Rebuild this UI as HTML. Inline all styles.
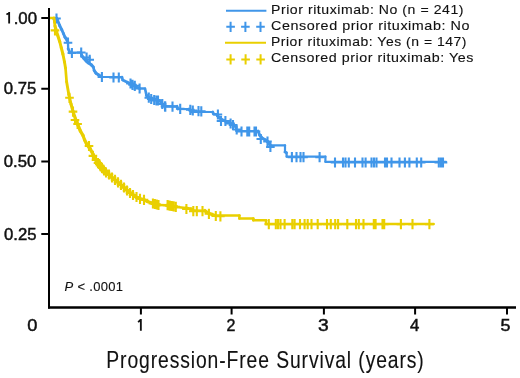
<!DOCTYPE html>
<html><head><meta charset="utf-8"><style>
html,body{margin:0;padding:0;background:#fff;}
svg{display:block;}
text{font-family:"Liberation Sans",sans-serif;fill:#111;stroke:#111;stroke-width:0.12px;}
.tk text{stroke-width:0.45px;}
svg{will-change:transform;}
</style></head><body>
<svg width="520" height="378" viewBox="0 0 520 378">
<rect width="520" height="378" fill="#fff"/>
<!-- legend -->
<line x1="226" y1="10.8" x2="266.4" y2="10.8" stroke="#4096e9" stroke-width="1.9"/>
<path d="M226.3 26.8h8.6M230.6 21.7v10.2M241.1 26.8h8.6M245.4 21.7v10.2M256.2 26.8h8.6M260.5 21.7v10.2" stroke="#4096e9" stroke-width="2" fill="none"/>
<line x1="225" y1="42.8" x2="266" y2="42.8" stroke="#e9cf00" stroke-width="2"/>
<path d="M226.3 59.4h8.6M230.6 54.3v10.2M241.3 59.4h8.6M245.6 54.3v10.2M256.3 59.4h8.6M260.6 54.3v10.2" stroke="#e9cf00" stroke-width="2" fill="none"/>
<g font-size="13" letter-spacing="0.5">
<text x="271" y="13.9" textLength="193" lengthAdjust="spacingAndGlyphs">Prior rituximab: No (n = 241)</text>
<text x="271" y="29.8" textLength="199" lengthAdjust="spacingAndGlyphs">Censored prior rituximab: No</text>
<text x="271" y="46.2" textLength="196" lengthAdjust="spacingAndGlyphs">Prior rituximab: Yes (n = 147)</text>
<text x="271" y="62.1" textLength="203" lengthAdjust="spacingAndGlyphs">Censored prior rituximab: Yes</text>
</g>
<!-- curves -->
<g stroke="#4096e9" stroke-linecap="round"><line x1="49.0" y1="18.0" x2="56.5" y2="18.0" stroke-width="2.20"/><line x1="56.5" y1="18.0" x2="57.6" y2="20.3" stroke-width="2.93"/><line x1="57.6" y1="20.3" x2="59.7" y2="25.6" stroke-width="2.86"/><line x1="59.7" y1="25.6" x2="61.8" y2="29.8" stroke-width="2.95"/><line x1="61.8" y1="29.8" x2="63.4" y2="33.5" stroke-width="2.89"/><line x1="63.4" y1="33.5" x2="65.0" y2="37.2" stroke-width="2.89"/><line x1="65.0" y1="37.2" x2="67.0" y2="40.0" stroke-width="3.07"/><line x1="67.0" y1="40.0" x2="68.0" y2="42.7" stroke-width="2.83"/><line x1="68.0" y1="42.7" x2="68.2" y2="48.8" stroke-width="2.27"/><line x1="68.2" y1="48.8" x2="70.0" y2="52.6" stroke-width="2.93"/><line x1="70.0" y1="52.6" x2="81.0" y2="52.6" stroke-width="2.20"/><line x1="81.0" y1="52.6" x2="82.0" y2="56.0" stroke-width="2.73"/><line x1="82.0" y1="56.0" x2="84.0" y2="58.5" stroke-width="3.09"/><line x1="84.0" y1="58.5" x2="86.0" y2="60.6" stroke-width="3.11"/><line x1="86.0" y1="60.6" x2="88.0" y2="62.5" stroke-width="3.11"/><line x1="88.0" y1="62.5" x2="91.5" y2="65.0" stroke-width="3.07"/><line x1="91.5" y1="65.0" x2="93.3" y2="67.0" stroke-width="3.11"/><line x1="93.3" y1="67.0" x2="94.2" y2="70.5" stroke-width="2.68"/><line x1="94.2" y1="70.5" x2="96.0" y2="73.2" stroke-width="3.05"/><line x1="96.0" y1="73.2" x2="98.7" y2="75.0" stroke-width="3.05"/><line x1="98.7" y1="75.0" x2="101.9" y2="77.0" stroke-width="3.03"/><line x1="101.9" y1="77.0" x2="122.0" y2="77.0" stroke-width="2.20"/><line x1="122.0" y1="77.0" x2="122.7" y2="80.0" stroke-width="2.64"/><line x1="122.7" y1="80.0" x2="127.3" y2="82.3" stroke-width="2.95"/><line x1="127.3" y1="82.3" x2="132.0" y2="84.6" stroke-width="2.94"/><line x1="132.0" y1="84.6" x2="135.0" y2="86.2" stroke-width="2.98"/><line x1="135.0" y1="86.2" x2="139.6" y2="88.5" stroke-width="2.95"/><line x1="139.6" y1="88.5" x2="145.0" y2="88.5" stroke-width="2.20"/><line x1="145.0" y1="88.5" x2="146.5" y2="95.4" stroke-width="2.62"/><line x1="146.5" y1="95.4" x2="148.8" y2="97.7" stroke-width="3.11"/><line x1="148.8" y1="97.7" x2="152.0" y2="99.2" stroke-width="2.93"/><line x1="152.0" y1="99.2" x2="154.2" y2="100.0" stroke-width="2.82"/><line x1="154.2" y1="100.0" x2="158.0" y2="100.0" stroke-width="2.20"/><line x1="158.0" y1="100.0" x2="160.0" y2="100.8" stroke-width="2.86"/><line x1="160.0" y1="100.8" x2="162.0" y2="103.7" stroke-width="3.06"/><line x1="162.0" y1="103.7" x2="165.0" y2="106.1" stroke-width="3.09"/><line x1="165.0" y1="106.1" x2="177.0" y2="106.3" stroke-width="2.24"/><line x1="177.0" y1="106.3" x2="178.0" y2="109.0" stroke-width="2.83"/><line x1="178.0" y1="109.0" x2="189.0" y2="109.2" stroke-width="2.24"/><line x1="189.0" y1="109.2" x2="192.0" y2="111.8" stroke-width="3.10"/><line x1="192.0" y1="111.8" x2="212.7" y2="112.0" stroke-width="2.22"/><line x1="212.7" y1="112.0" x2="213.5" y2="114.0" stroke-width="2.86"/><line x1="213.5" y1="114.0" x2="217.0" y2="114.5" stroke-width="2.49"/><line x1="217.0" y1="114.5" x2="217.5" y2="115.9" stroke-width="2.81"/><line x1="217.5" y1="115.9" x2="221.0" y2="119.0" stroke-width="3.11"/><line x1="221.0" y1="119.0" x2="225.0" y2="121.0" stroke-width="2.95"/><line x1="225.0" y1="121.0" x2="230.0" y2="123.0" stroke-width="2.86"/><line x1="230.0" y1="123.0" x2="233.0" y2="124.5" stroke-width="2.95"/><line x1="233.0" y1="124.5" x2="236.0" y2="127.0" stroke-width="3.10"/><line x1="236.0" y1="127.0" x2="236.5" y2="131.0" stroke-width="2.46"/><line x1="236.5" y1="131.0" x2="258.0" y2="131.0" stroke-width="2.20"/><line x1="258.0" y1="131.0" x2="259.6" y2="135.0" stroke-width="2.86"/><line x1="259.6" y1="135.0" x2="262.0" y2="138.0" stroke-width="3.09"/><line x1="262.0" y1="138.0" x2="265.6" y2="140.1" stroke-width="3.01"/><line x1="265.6" y1="140.1" x2="267.5" y2="141.5" stroke-width="3.08"/><line x1="267.5" y1="141.5" x2="269.4" y2="144.0" stroke-width="3.08"/><line x1="269.4" y1="144.0" x2="270.4" y2="145.3" stroke-width="3.09"/><line x1="270.4" y1="145.3" x2="285.0" y2="145.3" stroke-width="2.20"/><line x1="285.0" y1="145.3" x2="285.0" y2="152.0" stroke-width="2.20"/><line x1="285.0" y1="152.0" x2="286.5" y2="152.7" stroke-width="2.92"/><line x1="286.5" y1="152.7" x2="286.7" y2="156.7" stroke-width="2.31"/><line x1="286.7" y1="156.7" x2="325.4" y2="156.7" stroke-width="2.20"/><line x1="325.4" y1="156.7" x2="325.4" y2="161.8" stroke-width="2.20"/><line x1="325.4" y1="161.8" x2="446.0" y2="161.8" stroke-width="2.20"/></g>
<path d="M52.2 18.5h8.6M56.5 13.4v10.2M63.7 42.7h8.6M68.0 37.6v10.2M67.6 53.0h8.6M71.9 47.9v10.2M76.9 52.5h8.6M81.2 47.4v10.2M82.3 57.5h8.6M86.6 52.4v10.2M85.4 59.8h8.6M89.7 54.7v10.2M97.6 77.0h8.6M101.9 71.9v10.2M109.2 77.5h8.6M113.5 72.4v10.2M114.5 77.5h8.6M118.8 72.4v10.2M126.2 83.5h8.6M130.5 78.4v10.2M128.2 84.8h8.6M132.5 79.7v10.2M130.5 85.8h8.6M134.8 80.7v10.2M135.3 88.5h8.6M139.6 83.4v10.2M144.5 97.7h8.6M148.8 92.6v10.2M146.9 99.0h8.6M151.2 93.9v10.2M149.9 100.0h8.6M154.2 94.9v10.2M152.2 100.5h8.6M156.5 95.4v10.2M153.7 100.5h8.6M158.0 95.4v10.2M158.0 104.0h8.6M162.3 98.9v10.2M160.7 106.4h8.6M165.0 101.3v10.2M161.0 106.6h8.6M165.3 101.5v10.2M168.2 106.6h8.6M172.5 101.5v10.2M175.9 108.8h8.6M180.2 103.7v10.2M186.0 109.8h8.6M190.3 104.7v10.2M188.5 110.5h8.6M192.8 105.4v10.2M194.2 111.2h8.6M198.5 106.1v10.2M197.0 111.4h8.6M201.3 106.3v10.2M213.6 114.5h8.6M217.9 109.4v10.2M216.7 121.0h8.6M221.0 115.9v10.2M221.1 121.0h8.6M225.4 115.9v10.2M226.3 123.5h8.6M230.6 118.4v10.2M228.7 125.0h8.6M233.0 119.9v10.2M232.4 129.5h8.6M236.7 124.4v10.2M237.2 131.5h8.6M241.5 126.4v10.2M243.0 131.5h8.6M247.3 126.4v10.2M244.9 131.5h8.6M249.2 126.4v10.2M250.2 131.5h8.6M254.5 126.4v10.2M251.7 131.5h8.6M256.0 126.4v10.2M256.5 139.0h8.6M260.8 133.9v10.2M263.2 141.5h8.6M267.5 136.4v10.2M266.1 147.0h8.6M270.4 141.9v10.2M287.6 157.2h8.6M291.9 152.1v10.2M292.2 157.2h8.6M296.5 152.1v10.2M296.2 157.2h8.6M300.5 152.1v10.2M299.2 157.2h8.6M303.5 152.1v10.2M315.3 157.2h8.6M319.6 152.1v10.2M330.7 162.5h8.6M335.0 157.4v10.2M338.7 162.5h8.6M343.0 157.4v10.2M341.2 162.5h8.6M345.5 157.4v10.2M344.5 162.5h8.6M348.8 157.4v10.2M350.7 162.5h8.6M355.0 157.4v10.2M358.2 162.5h8.6M362.5 157.4v10.2M361.3 162.5h8.6M365.6 157.4v10.2M367.2 162.5h8.6M371.5 157.4v10.2M369.7 162.5h8.6M374.0 157.4v10.2M372.2 162.5h8.6M376.5 157.4v10.2M380.7 162.5h8.6M385.0 157.4v10.2M382.7 162.5h8.6M387.0 157.4v10.2M387.2 162.5h8.6M391.5 157.4v10.2M395.2 162.5h8.6M399.5 157.4v10.2M400.6 162.5h8.6M404.9 157.4v10.2M405.1 162.5h8.6M409.4 157.4v10.2M412.5 162.5h8.6M416.8 157.4v10.2M416.9 162.5h8.6M421.2 157.4v10.2M434.5 162.5h8.6M438.8 157.4v10.2M436.7 162.5h8.6M441.0 157.4v10.2M438.7 162.5h8.6M443.0 157.4v10.2" stroke="#4096e9" stroke-width="2.1" fill="none"/>
<g stroke="#e9cf00" stroke-linecap="round"><line x1="49.0" y1="18.0" x2="54.0" y2="18.0" stroke-width="2.50"/><line x1="54.0" y1="18.0" x2="54.5" y2="22.0" stroke-width="2.79"/><line x1="54.5" y1="22.0" x2="55.0" y2="26.0" stroke-width="2.79"/><line x1="55.0" y1="26.0" x2="55.7" y2="28.5" stroke-width="3.08"/><line x1="55.7" y1="28.5" x2="57.6" y2="35.1" stroke-width="3.09"/><line x1="57.6" y1="35.1" x2="59.7" y2="41.5" stroke-width="3.15"/><line x1="59.7" y1="41.5" x2="61.3" y2="47.8" stroke-width="3.04"/><line x1="61.3" y1="47.8" x2="62.9" y2="54.0" stroke-width="3.05"/><line x1="62.9" y1="54.0" x2="64.5" y2="62.0" stroke-width="2.94"/><line x1="64.5" y1="62.0" x2="65.5" y2="68.0" stroke-width="2.88"/><line x1="65.5" y1="68.0" x2="66.6" y2="81.7" stroke-width="2.69"/><line x1="66.6" y1="81.7" x2="68.8" y2="94.4" stroke-width="2.89"/><line x1="68.8" y1="94.4" x2="71.0" y2="104.0" stroke-width="3.00"/><line x1="71.0" y1="104.0" x2="73.0" y2="111.4" stroke-width="3.07"/><line x1="73.0" y1="111.4" x2="75.5" y2="119.0" stroke-width="3.16"/><line x1="75.5" y1="119.0" x2="77.7" y2="124.5" stroke-width="3.25"/><line x1="77.7" y1="124.5" x2="80.4" y2="131.0" stroke-width="3.27"/><line x1="80.4" y1="131.0" x2="83.0" y2="135.5" stroke-width="3.42"/><line x1="83.0" y1="135.5" x2="84.6" y2="140.0" stroke-width="3.19"/><line x1="84.6" y1="140.0" x2="86.6" y2="144.0" stroke-width="3.35"/><line x1="86.6" y1="144.0" x2="90.0" y2="148.6" stroke-width="3.50"/><line x1="90.0" y1="148.6" x2="93.2" y2="154.5" stroke-width="3.39"/><line x1="93.2" y1="154.5" x2="95.2" y2="159.5" stroke-width="3.25"/><line x1="95.2" y1="159.5" x2="99.5" y2="164.5" stroke-width="3.53"/><line x1="99.5" y1="164.5" x2="103.8" y2="170.0" stroke-width="3.51"/><line x1="103.8" y1="170.0" x2="108.0" y2="174.0" stroke-width="3.53"/><line x1="108.0" y1="174.0" x2="112.0" y2="177.5" stroke-width="3.53"/><line x1="112.0" y1="177.5" x2="116.0" y2="180.8" stroke-width="3.52"/><line x1="116.0" y1="180.8" x2="120.0" y2="184.0" stroke-width="3.51"/><line x1="120.0" y1="184.0" x2="124.0" y2="187.5" stroke-width="3.53"/><line x1="124.0" y1="187.5" x2="128.0" y2="191.0" stroke-width="3.53"/><line x1="128.0" y1="191.0" x2="132.0" y2="194.0" stroke-width="3.50"/><line x1="132.0" y1="194.0" x2="136.0" y2="197.0" stroke-width="3.50"/><line x1="136.0" y1="197.0" x2="140.0" y2="198.8" stroke-width="3.31"/><line x1="140.0" y1="198.8" x2="144.0" y2="199.8" stroke-width="3.03"/><line x1="144.0" y1="199.8" x2="147.5" y2="201.5" stroke-width="3.34"/><line x1="147.5" y1="201.5" x2="152.0" y2="203.0" stroke-width="3.16"/><line x1="152.0" y1="203.0" x2="156.0" y2="204.0" stroke-width="3.03"/><line x1="156.0" y1="204.0" x2="159.6" y2="205.0" stroke-width="3.08"/><line x1="159.6" y1="205.0" x2="166.5" y2="205.2" stroke-width="2.57"/><line x1="166.5" y1="205.2" x2="171.0" y2="206.0" stroke-width="2.90"/><line x1="171.0" y1="206.0" x2="176.5" y2="207.0" stroke-width="2.91"/><line x1="176.5" y1="207.0" x2="186.0" y2="208.0" stroke-width="2.75"/><line x1="186.0" y1="208.0" x2="191.0" y2="209.0" stroke-width="2.94"/><line x1="191.0" y1="209.0" x2="193.0" y2="210.5" stroke-width="3.50"/><line x1="193.0" y1="210.5" x2="205.0" y2="210.7" stroke-width="2.54"/><line x1="205.0" y1="210.7" x2="207.0" y2="212.5" stroke-width="3.53"/><line x1="207.0" y1="212.5" x2="212.0" y2="214.5" stroke-width="3.25"/><line x1="212.0" y1="214.5" x2="215.0" y2="215.5" stroke-width="3.16"/><line x1="215.0" y1="215.5" x2="239.4" y2="215.5" stroke-width="2.50"/><line x1="239.4" y1="215.5" x2="239.4" y2="218.6" stroke-width="2.50"/><line x1="239.4" y1="218.6" x2="253.3" y2="218.6" stroke-width="2.50"/><line x1="253.3" y1="218.6" x2="253.3" y2="220.2" stroke-width="2.50"/><line x1="253.3" y1="220.2" x2="266.0" y2="220.2" stroke-width="2.50"/><line x1="266.0" y1="220.2" x2="266.0" y2="224.0" stroke-width="2.50"/><line x1="266.0" y1="224.0" x2="433.7" y2="224.0" stroke-width="2.50"/></g>
<path d="M50.7 30.4h8.6M55.0 25.3v10.2M65.2 97.8h8.6M69.5 92.7v10.2M68.7 111.6h8.6M73.0 106.5v10.2M70.7 120.0h8.6M75.0 114.9v10.2M73.3 124.0h8.6M77.6 118.9v10.2M84.7 146.0h8.6M89.0 140.9v10.2M88.6 155.9h8.6M92.9 150.8v10.2M91.7 160.0h8.6M96.0 154.9v10.2M93.7 163.0h8.6M98.0 157.9v10.2M95.7 165.5h8.6M100.0 160.4v10.2M97.7 168.0h8.6M102.0 162.9v10.2M99.7 170.5h8.6M104.0 165.4v10.2M101.7 172.5h8.6M106.0 167.4v10.2M104.7 174.5h8.6M109.0 169.4v10.2M107.7 177.5h8.6M112.0 172.4v10.2M110.7 179.8h8.6M115.0 174.7v10.2M113.7 182.3h8.6M118.0 177.2v10.2M116.7 184.8h8.6M121.0 179.7v10.2M119.7 187.5h8.6M124.0 182.4v10.2M122.7 190.5h8.6M127.0 185.4v10.2M125.7 193.0h8.6M130.0 187.9v10.2M128.7 195.0h8.6M133.0 189.9v10.2M132.2 197.0h8.6M136.5 191.9v10.2M135.7 198.8h8.6M140.0 193.7v10.2M139.7 199.8h8.6M144.0 194.7v10.2M148.6 203.5h8.6M152.9 198.4v10.2M150.5 204.0h8.6M154.8 198.9v10.2M152.4 204.5h8.6M156.7 199.4v10.2M154.2 205.0h8.6M158.5 199.9v10.2M163.3 205.2h8.6M167.6 200.1v10.2M165.3 205.6h8.6M169.6 200.5v10.2M167.3 206.0h8.6M171.6 200.9v10.2M169.3 206.4h8.6M173.6 201.3v10.2M171.5 206.8h8.6M175.8 201.7v10.2M182.1 209.0h8.6M186.4 203.9v10.2M189.0 211.2h8.6M193.3 206.1v10.2M192.5 211.2h8.6M196.8 206.1v10.2M198.2 211.2h8.6M202.5 206.1v10.2M204.6 213.8h8.6M208.9 208.7v10.2M211.5 216.0h8.6M215.8 210.9v10.2M216.1 216.3h8.6M220.4 211.2v10.2M264.5 224.2h8.6M268.8 219.1v10.2M271.5 224.2h8.6M275.8 219.1v10.2M273.7 224.2h8.6M278.0 219.1v10.2M276.2 224.2h8.6M280.5 219.1v10.2M280.3 224.2h8.6M284.6 219.1v10.2M288.0 224.2h8.6M292.3 219.1v10.2M290.3 224.2h8.6M294.6 219.1v10.2M295.7 224.2h8.6M300.0 219.1v10.2M300.3 224.2h8.6M304.6 219.1v10.2M303.4 224.2h8.6M307.7 219.1v10.2M307.2 224.2h8.6M311.5 219.1v10.2M313.4 224.2h8.6M317.7 219.1v10.2M322.7 224.2h8.6M327.0 219.1v10.2M326.5 224.2h8.6M330.8 219.1v10.2M330.9 224.2h8.6M335.2 219.1v10.2M333.8 224.2h8.6M338.1 219.1v10.2M343.0 224.2h8.6M347.3 219.1v10.2M351.7 224.2h8.6M356.0 219.1v10.2M354.5 224.2h8.6M358.8 219.1v10.2M359.2 224.2h8.6M363.5 219.1v10.2M369.5 224.2h8.6M373.8 219.1v10.2M371.3 224.2h8.6M375.6 219.1v10.2M378.2 224.2h8.6M382.5 219.1v10.2M379.9 224.2h8.6M384.2 219.1v10.2M396.6 224.2h8.6M400.9 219.1v10.2M408.2 224.2h8.6M412.5 219.1v10.2M425.1 224.2h8.6M429.4 219.1v10.2" stroke="#e9cf00" stroke-width="2.1" fill="none"/>
<!-- axes -->
<path d="M49 8V308.5" stroke="#000" stroke-width="2" fill="none"/>
<path d="M48 307.5H516" stroke="#000" stroke-width="2.4" fill="none"/>
<path d="M41.3 17.9H49M41.3 88.7H49M41.3 161.5H49M41.3 233.9H49" stroke="#000" stroke-width="2"/>
<path d="M140.9 307V314.6M231.6 307V314.6M323.9 307V314.6M415.1 307V314.6M507 307V314.6" stroke="#000" stroke-width="2"/>
<g font-size="16" class="tk">
<text x="37" y="24" text-anchor="end" transform="translate(37 0) scale(1.05 1) translate(-37 0)">.00</text>
<text x="36.3" y="93.8" text-anchor="end" transform="translate(36.3 0) scale(1.045 1) translate(-36.3 0)">0.75</text>
<text x="36.3" y="166.8" text-anchor="end" transform="translate(36.3 0) scale(1.045 1) translate(-36.3 0)">0.50</text>
<text x="36.5" y="239.8" text-anchor="end" transform="translate(36.5 0) scale(1.045 1) translate(-36.5 0)">0.25</text>
<text x="32.45" y="331" text-anchor="middle" transform="translate(32.45 0) scale(1.14 1) translate(-32.45 0)">0</text>
<text x="230.85" y="331" text-anchor="middle">2</text>
<text x="323.35" y="331" text-anchor="middle" transform="translate(323.35 0) scale(1.2 1) translate(-323.35 0)">3</text>
<text x="414.7" y="331" text-anchor="middle" transform="translate(414.7 0) scale(1.05 1) translate(-414.7 0)">4</text>
<text x="505.6" y="331" text-anchor="middle" transform="translate(505.6 0) scale(1.12 1) translate(-505.6 0)">5</text>
</g>
<path d="M9.15 11.9V23.6M6.5 14.6L9 12.6M140.85 319.1V330.7M138.1 322.1L140.5 320" stroke="#111" stroke-width="1.85" fill="none"/>
<text x="64.6" y="290.9" font-size="13" textLength="58.5" lengthAdjust="spacing"><tspan font-style="italic">P</tspan> &lt; .0001</text>
<text x="0" y="368.5" font-size="23" transform="translate(106.3 0) scale(0.84 1)" textLength="378" lengthAdjust="spacing">Progression-Free Survival (years)</text>
</svg>
</body></html>
